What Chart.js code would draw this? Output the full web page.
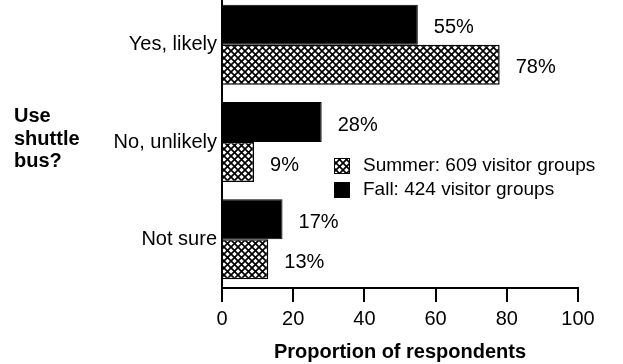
<!DOCTYPE html>
<html>
<head>
<meta charset="utf-8">
<script src="https://cdn.jsdelivr.net/npm/chart.js@4.4.0/dist/chart.umd.min.js"></script>
<style>
  html, body { margin: 0; padding: 0; background: #fff; overflow: hidden; }
  #wrap { position: absolute; left: 0; top: -5px; width: 623px; height: 369px; }
</style>
</head>
<body>
<div id="wrap"><canvas id="shuttleChart"></canvas></div>
<script>
// data
var categories = ["Yes, likely", "No, unlikely", "Not sure"];
var fallValues = [55, 28, 17];
var summerValues = [78, 9, 13];
var seriesNames = ["Fall: 424 visitor groups", "Summer: 609 visitor groups"];
var xTicks = [0, 20, 40, 60, 80, 100];
var yTitleLines = ["Use", "shuttle", "bus?"];
var xTitle = "Proportion of respondents";

var FONT = "'Liberation Sans', Arial, Helvetica, sans-serif";

// cross hatch fill for the summer bars
function crossHatch() {
  var c = document.createElement('canvas');
  c.width = 7; c.height = 7;
  var g = c.getContext('2d');
  g.fillStyle = '#fff';
  g.fillRect(0, 0, 7, 7);
  g.strokeStyle = '#000';
  g.lineWidth = 1.7;
  g.beginPath();
  g.moveTo(-1, -1); g.lineTo(8, 8);
  g.moveTo(8, -1); g.lineTo(-1, 8);
  g.stroke();
  return g.createPattern(c, 'repeat');
}

// percent labels next to each bar
var valueLabels = {
  id: 'valueLabels',
  afterDatasetsDraw: function (chart) {
    var ctx = chart.ctx;
    ctx.save();
    ctx.fillStyle = '#000';
    ctx.font = '20px ' + FONT;
    ctx.textAlign = 'left';
    ctx.textBaseline = 'middle';
    chart.data.datasets.forEach(function (ds, i) {
      chart.getDatasetMeta(i).data.forEach(function (bar, j) {
        ctx.fillText(ds.data[j] + '%', bar.x + 16, bar.y + 3);
      });
    });
    ctx.restore();
  }
};

// legend inside the plot, summer first
var innerLegend = {
  id: 'innerLegend',
  afterDraw: function (chart) {
    var ctx = chart.ctx;
    var area = chart.chartArea;
    var x = area.left + 112;
    var y = area.top + 162;
    ctx.save();
    ctx.font = '19px ' + FONT;
    ctx.textAlign = 'left';
    ctx.textBaseline = 'middle';
    var order = [1, 0];
    order.forEach(function (i, k) {
      var ds = chart.data.datasets[i];
      var top = y + k * 24;
      ctx.fillStyle = ds.backgroundColor;
      ctx.fillRect(x, top, 16, 16);
      ctx.strokeStyle = '#000';
      ctx.lineWidth = 1;
      ctx.strokeRect(x + 0.5, top + 0.5, 15, 15);
      ctx.fillStyle = '#000';
      ctx.fillText(ds.label, x + 29, top + 8);
    });
    ctx.restore();
  }
};

// horizontal y axis title on the far left
var yTitle = {
  id: 'yTitle',
  afterDraw: function (chart) {
    var ctx = chart.ctx;
    ctx.save();
    ctx.fillStyle = '#000';
    ctx.font = 'bold 20px ' + FONT;
    ctx.textAlign = 'left';
    ctx.textBaseline = 'alphabetic';
    yTitleLines.forEach(function (line, i) {
      ctx.fillText(line, 14, 127 + i * 22.5);
    });
    ctx.restore();
  }
};

var ctx = document.getElementById('shuttleChart').getContext('2d');
var shuttleChart = new Chart(ctx, {
  type: 'bar',
  data: {
    labels: categories,
    datasets: [{
      label: seriesNames[0],
      data: fallValues,
      backgroundColor: '#000',
      borderColor: '#000',
      borderWidth: 1
    }, {
      label: seriesNames[1],
      data: summerValues,
      backgroundColor: crossHatch(),
      borderColor: '#000',
      borderWidth: 1.5
    }]
  },
  options: {
    indexAxis: 'y',
    responsive: true,
    maintainAspectRatio: false,
    animation: false,
    categoryPercentage: 0.822,
    barPercentage: 1,
    layout: { padding: { top: 1, right: 45, bottom: 0, left: 0 } },
    plugins: {
      legend: { display: false },
      tooltip: { enabled: false }
    },
    scales: {
      x: {
        min: 0,
        max: 100,
        afterBuildTicks: function (s) {
          s.ticks = xTicks.map(function (v) { return { value: v }; });
        },
        grid: { drawOnChartArea: false, drawTicks: true, tickLength: 14, color: '#000', lineWidth: 2 },
        border: { display: true, color: '#000', width: 2 },
        ticks: { color: '#000', font: { size: 20, family: FONT }, padding: 5, maxRotation: 0 },
        title: {
          display: true,
          text: xTitle,
          color: '#000',
          font: { size: 20, weight: 'bold', family: FONT },
          padding: { top: 4, bottom: 0 }
        }
      },
      y: {
        grid: { display: false, drawTicks: false },
        border: { display: true, color: '#000', width: 2 },
        ticks: { color: '#000', font: { size: 20, family: FONT }, padding: 5 },
        afterFit: function (s) {
          s.width = 222;
          s.paddingTop = 0;
          s.paddingBottom = 0;
        }
      }
    }
  },
  plugins: [valueLabels, innerLegend, yTitle]
});
</script>
</body>
</html>
